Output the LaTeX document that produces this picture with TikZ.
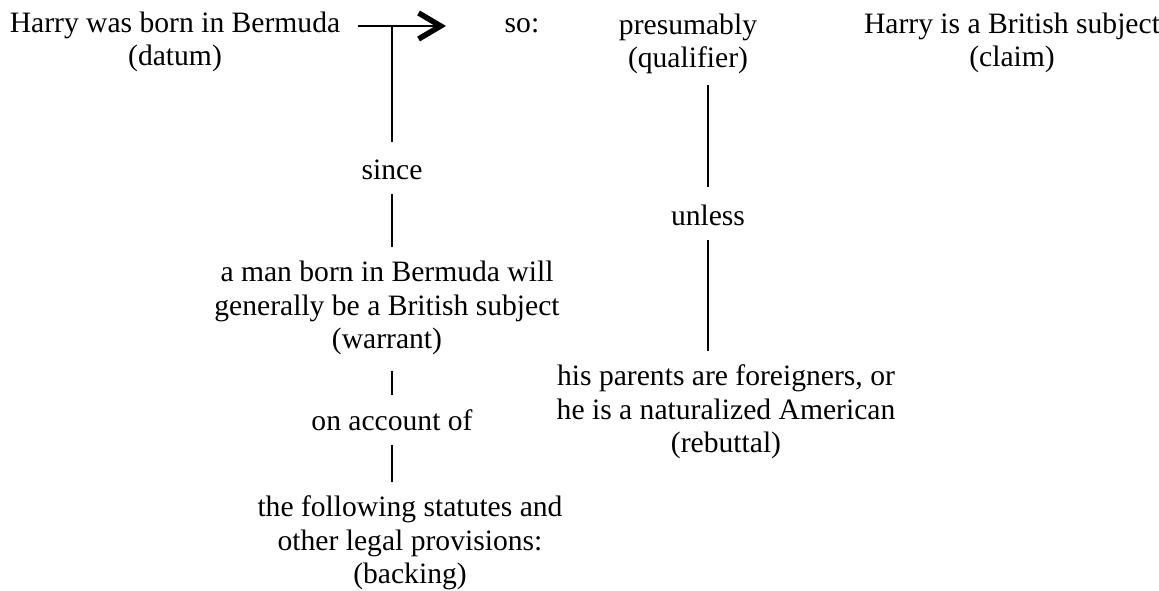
\documentclass[tikz,border=0pt]{standalone}
\usepackage{fontspec}
\setmainfont{Liberation Serif}
\usetikzlibrary{arrows.meta}
\tikzset{
  part/.style={align=center, inner sep=0pt, font=\fontsize{29.6}{33.5}\selectfont},
  link/.style={line width=1.6pt, shorten >=14pt, shorten <=14pt}
}
\begin{document}
\begin{tikzpicture}[x=1pt,y=-1pt]
    \useasboundingbox (0,0) rectangle (1159,591);
    % Top row: datum -> claim
    \node[part] (datum) at (175,42) {Harry was born in Bermuda\\(datum)};
    \node[part] (so) at (522,26) {so:};
    \node[part] (qualifier) at (688,44) {presumably\\(qualifier)};
    \node[part] (claim) at (1012,43) {Harry is a British subject\\(claim)};
    \coordinate (tail) at (358,26);
    \coordinate (head) at (446,26);
    \coordinate (joint) at (392,26);
    \draw[line width=1.6pt, -{Straight Barb[line width=5.5pt, length=22pt, width=26pt]}] (tail) -- (head);
    % Warrant and backing
    \node[part] (since) at (392,170) {since};
    \node[part] (warrant) at (387,308) {a man born in Bermuda will\\generally be a British subject\\(warrant)};
    \node[part] (account) at (392,420) {on account of};
    \node[part] (backing) at (410,543) {the following statutes and\\other legal provisions:\\(backing)};
    \draw[link, shorten <=0pt, shorten >=18pt] (joint) -- (since);
    \draw[link] (since) -- (since |- warrant.north);
    \draw[link, shorten <=16pt] (account |- warrant.south) -- (account);
    \draw[link] (account) -- (account |- backing.north);
    % Rebuttal
    \node[part] (unless) at (708,215) {unless};
    \node[part] (rebuttal) at (726,412) {his parents are foreigners, or\\he is a naturalized American\\(rebuttal)};
    \draw[link, shorten <=11pt, shorten >=17pt] (unless |- qualifier.south) -- (unless);
    \draw[link] (unless) -- (unless |- rebuttal.north);
\end{tikzpicture}
\end{document}
